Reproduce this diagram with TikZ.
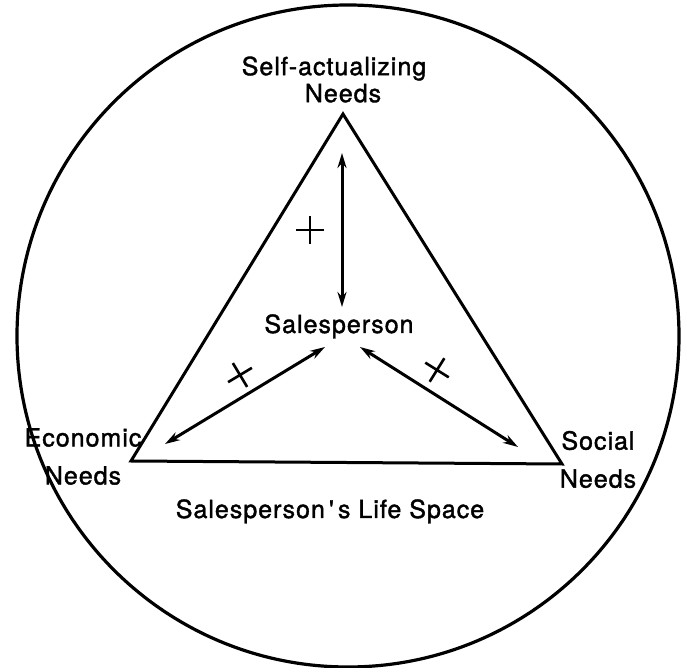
\documentclass[tikz,border=0pt]{standalone}
\usepackage{fontspec}
\setmainfont{TeX Gyre Heros}[LetterSpace=4,FakeBold=1.5]
\usetikzlibrary{arrows.meta,shapes.misc}
\begin{document}
\begin{tikzpicture}[x=1pt,y=-1pt,
  lab/.style={font=\fontsize{25}{27}\selectfont, inner sep=0pt, align=center},
  edge/.style={line width=3pt, line join=miter},
  rel/.style={line width=3pt, {Stealth[length=15pt,width=9pt]}-{Stealth[length=15pt,width=9pt]}},
  plusmark/.style={draw, cross out, line width=2.6pt, inner sep=0pt, minimum size=17pt}]
\useasboundingbox (0,0) rectangle (681,668);
% life space
\node[draw, circle, line width=3.2pt, minimum size=662pt, inner sep=0pt] (space) at (348,336) {};
% triangle
\coordinate (A) at (343,114);
\coordinate (B) at (131,461);
\coordinate (C) at (562,464);
\draw[edge] (A) -- (B) -- (C) -- cycle;
% labels
\node[lab] (self) at (343,79.5) {Self-actualizing\hspace*{18pt}\\Needs};
\node[lab] (econ) at (83,456.5) {Economic\\[11pt]Needs};
\node[lab] (social) at (598,459.5) {Social\\[11pt]Needs};
\node[lab, anchor=base] (sp) at (339,333) {Salesperson};
\node[lab, anchor=base] (life) at (330,518) {Salesperson\,\textquotesingle\,s Life Space};
% arrows
\coordinate (v1) at (342,153);
\coordinate (v2) at (342,307);
\coordinate (l1) at (165,444);
\coordinate (l2) at (325,347);
\coordinate (r1) at (360,347);
\coordinate (r2) at (518,447);
\draw[rel] (v1) -- (v2);
\draw[rel] (l1) -- (l2);
\draw[rel] (r1) -- (r2);
% plus marks
\node[plusmark, rotate=45] (p1) at (310,230) {};
\node[plusmark, rotate=76] (p2) at (240,375) {};
\node[plusmark, rotate=13] (p3) at (437,370) {};
\end{tikzpicture}
\end{document}
